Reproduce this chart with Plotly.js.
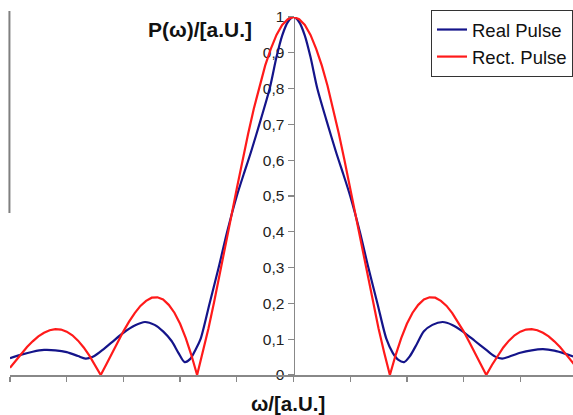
<!DOCTYPE html>
<html>
<head>
<meta charset="utf-8">
<script src="https://cdn.plot.ly/plotly-3.0.1.min.js"></script>
<style>html,body{margin:0;padding:0;background:#fff;overflow:hidden;}#chart{width:592px;height:415px;}</style>
</head>
<body>
<div id="chart"></div>
<script>
// Real pulse spectrum
var realX = [-5.0,-4.8,-4.6,-4.4,-4.2,-4.0,-3.8,-3.67,-3.55,-3.4,-3.2,-3.0,-2.8,-2.62,-2.45,-2.3,-2.15,-2.03,-1.92,-1.82,-1.73,-1.64,-1.48,-1.32,-1.17,-1.0,-0.88,-0.75,-0.58,-0.42,-0.3,-0.2,-0.1,0,0.1,0.2,0.3,0.42,0.58,0.75,0.88,1.0,1.17,1.32,1.48,1.64,1.75,1.85,1.95,2.05,2.18,2.3,2.45,2.63,2.8,3.0,3.2,3.4,3.55,3.68,3.8,4.0,4.2,4.4,4.6,4.8,5.0];
var realY = [0.047,0.057,0.065,0.070,0.069,0.064,0.053,0.046,0.050,0.066,0.092,0.118,0.138,0.148,0.140,0.122,0.095,0.062,0.036,0.045,0.070,0.100,0.200,0.300,0.400,0.500,0.560,0.623,0.712,0.800,0.888,0.948,0.986,1.0,0.986,0.948,0.888,0.800,0.712,0.623,0.560,0.500,0.400,0.300,0.200,0.100,0.062,0.042,0.036,0.052,0.088,0.122,0.140,0.148,0.140,0.120,0.095,0.070,0.052,0.046,0.051,0.062,0.069,0.072,0.068,0.059,0.048];

// Rectangular pulse spectrum
var rectX = [-5.0,-4.9,-4.8,-4.7,-4.6,-4.5,-4.4,-4.3,-4.2,-4.1,-4.0,-3.9,-3.8,-3.7,-3.6,-3.5,-3.4,-3.3,-3.2,-3.1,-3.0,-2.9,-2.8,-2.7,-2.6,-2.5,-2.4,-2.3,-2.2,-2.1,-2.0,-1.9,-1.8,-1.7,-1.6,-1.5,-1.4,-1.3,-1.2,-1.1,-1.0,-0.9,-0.8,-0.7,-0.6,-0.5,-0.4,-0.3,-0.2,-0.1,0,0.1,0.2,0.3,0.4,0.5,0.6,0.7,0.8,0.9,1.0,1.1,1.2,1.3,1.4,1.5,1.6,1.7,1.8,1.9,2.0,2.1,2.2,2.3,2.4,2.5,2.6,2.7,2.8,2.9,3.0,3.1,3.2,3.3,3.4,3.5,3.6,3.7,3.8,3.9,4.0,4.1,4.2,4.3,4.4,4.5,4.6,4.7,4.8,4.9,5.0];
var rectY = [0.020,0.040,0.059,0.078,0.094,0.108,0.118,0.125,0.128,0.127,0.121,0.111,0.096,0.077,0.054,0.028,0,0.030,0.061,0.092,0.122,0.149,0.173,0.193,0.207,0.216,0.217,0.211,0.196,0.174,0.143,0.103,0.055,0,0.062,0.130,0.204,0.280,0.360,0.441,0.521,0.599,0.674,0.744,0.808,0.864,0.911,0.950,0.978,0.994,1.0,0.994,0.978,0.950,0.911,0.864,0.808,0.744,0.674,0.599,0.521,0.441,0.360,0.280,0.204,0.130,0.062,0,0.055,0.103,0.143,0.174,0.196,0.211,0.217,0.216,0.207,0.193,0.173,0.149,0.122,0.092,0.061,0.030,0,0.028,0.054,0.077,0.096,0.111,0.121,0.127,0.128,0.125,0.118,0.108,0.094,0.078,0.059,0.040,0.020];

var yTicks = [0,0.1,0.2,0.3,0.4,0.5,0.6,0.7,0.8,0.9,1];
var seriesNames = ['Real Pulse','Rect. Pulse'];

var FONT = 'Arial, "Liberation Sans", sans-serif';
var W = 592, L = 10, R = 15, PW = W - L - R; // plot spans 10..577 px
var T = 17, B = 40, PH = 415 - T - B;

var traces = [
  {x: realX, y: realY, type: 'scatter', mode: 'lines', name: seriesNames[0],
   line: {color: '#14148a', width: 2.2, shape: 'spline', smoothing: 0.8}},
  {x: rectX, y: rectY, type: 'scatter', mode: 'lines', name: seriesNames[1],
   line: {color: '#ff1a1a', width: 2.2}}
];

var layout = {
  width: W, height: 415,
  margin: {l: L, r: R, t: T, b: B, pad: 0},
  paper_bgcolor: '#ffffff', plot_bgcolor: '#ffffff',
  separators: ',.',
  font: {family: FONT, color: '#222', size: 15},
  showlegend: true,
  legend: {
    x: (431 - L) / PW, y: (375 - 10) / PH, xanchor: 'left', yanchor: 'top',
    bgcolor: '#ffffff', bordercolor: '#333', borderwidth: 1,
    font: {family: FONT, size: 18.5, color: '#111'},
    itemwidth: 30
  },
  xaxis: {
    range: [-5, 5], showgrid: false, zeroline: false,
    showline: true, linecolor: '#888', linewidth: 1.5,
    ticks: 'outside', tick0: -5, dtick: 1, ticklen: 5, tickcolor: '#888', tickwidth: 1.3,
    showticklabels: false, fixedrange: true
  },
  yaxis: {
    range: [0, 1], showgrid: false, zeroline: false,
    anchor: 'free', position: 0.5,
    showline: true, linecolor: '#888', linewidth: 1.5,
    ticks: 'outside', tickvals: yTicks, ticklen: 6, tickcolor: '#888', tickwidth: 1.3,
    tickfont: {family: FONT, size: 15.5, color: '#222'},
    layer: 'below traces', fixedrange: true
  },
  annotations: [
    {text: '<b>P(ω)/[a.U.]</b>', xref: 'paper', yref: 'paper', x: (199.5 - L) / PW, y: (375 - 30) / PH,
     xanchor: 'center', yanchor: 'middle', showarrow: false, font: {family: FONT, size: 21, color: '#111'}},
    {text: '<b>ω/[a.U.]</b>', xref: 'paper', yref: 'paper', x: (287.5 - L) / PW, y: (375 - 403) / PH,
     xanchor: 'center', yanchor: 'middle', showarrow: false, font: {family: FONT, size: 20.5, color: '#111'}}
  ],
  shapes: [
    {type: 'line', xref: 'paper', yref: 'paper', x0: -0.001, x1: -0.001,
     y0: (375 - 213) / PH, y1: (375 - 11) / PH, line: {color: '#808080', width: 2}}
  ]
};

Plotly.newPlot('chart', traces, layout, {displayModeBar: false, staticPlot: true});
</script>
</body>
</html>
